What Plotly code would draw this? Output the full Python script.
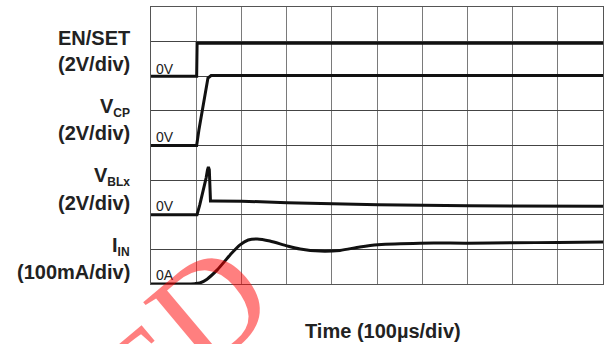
import plotly.graph_objects as go

# ---- data (time in µs, 100 µs/div) ----
en_t = [0, 101, 102, 1000]
en_v = [0, 0, 1.9, 1.9]

vcp_t = [0, 101, 106, 115, 122, 126, 133, 160, 1000]
vcp_v = [0, 0, 0.89, 2.34, 3.49, 3.9, 4.04, 4.05, 4.05]

vblx_t = [0, 101.8, 108, 115, 122, 125, 127, 129, 130.5, 131.6, 137, 201, 301, 330, 502, 701, 1000]
vblx_v = [0, 0, 0.58, 1.33, 2.13, 2.6, 2.76, 2.6, 1.4, 0.8, 0.8, 0.78, 0.70, 0.68, 0.58, 0.52, 0.49]

iin_t = [0, 97, 108, 124, 146, 175, 197, 215, 235, 263, 301, 330, 374, 418, 462, 502, 595, 701, 801, 900, 1000]
iin_ma = [0, 1, 3, 14, 40, 84, 113, 127, 130, 124, 110, 101, 95, 97, 107, 113.5, 118, 118, 119, 120, 121]

ch_names = ["EN/SET", "V<sub>CP</sub>", "V<sub>BLx</sub>", "I<sub>IN</sub>"]
ch_scales = ["(2V/div)", "(2V/div)", "(2V/div)", "(100mA/div)"]
zero_labels = ["0V", "0V", "0V", "0A"]
x_label = "Time (100µs/div)"

LINE = dict(color="#111111", width=3)

fig = go.Figure()
fig.add_trace(go.Scatter(x=iin_t, y=iin_ma, mode="lines", line=dict(LINE, shape="spline", smoothing=0.8), yaxis="y"))
fig.add_trace(go.Scatter(x=en_t, y=en_v, mode="lines", line=LINE, yaxis="y2"))
fig.add_trace(go.Scatter(x=vcp_t, y=vcp_v, mode="lines", line=LINE, yaxis="y3"))
fig.add_trace(go.Scatter(x=vblx_t, y=vblx_v, mode="lines", line=LINE, yaxis="y4"))

FONT_B = dict(family="Liberation Sans, Arial, sans-serif", size=20, color="#222222")
ann = []
name_y = [0.8863, 0.6363, 0.3863, 0.1363]
scale_y = [0.7942, 0.5442, 0.2942, 0.0442]
zero_y = [0.776, 0.531, 0.282, 0.0325]
for i in range(4):
    nm = ch_names[i].replace("<sub>", "<sub><span style='font-size:12px'>").replace("</sub>", "</span></sub>")
    ann.append(dict(text="<b>" + nm + "</b>", x=0, xref="paper", xanchor="right", xshift=-19,
                    y=name_y[i], yref="paper", yanchor="middle", showarrow=False, font=FONT_B))
    ann.append(dict(text="<b>" + ch_scales[i] + "</b>", x=0, xref="paper", xanchor="right", xshift=-19,
                    y=scale_y[i], yref="paper", yanchor="middle", showarrow=False, font=FONT_B))
    ann.append(dict(text=zero_labels[i], x=0, xref="paper", xanchor="left", xshift=3,
                    y=zero_y[i], yref="paper", yanchor="middle", showarrow=False,
                    font=dict(family="Liberation Sans, Arial, sans-serif", size=14, color="#222222")))
ann.append(dict(text="<b>" + x_label + "</b>", x=0.5133, xref="paper", y=-0.1697, yref="paper",
                xanchor="center", yanchor="middle", showarrow=False, font=FONT_B))
# red watermark fragment (letters placed individually)
WM = dict(family="Liberation Serif, Times New Roman, serif", size=130, color="rgba(255,0,0,0.5)")
ann.append(dict(text="D", x=0.1305, xref="paper", y=-0.0794, yref="paper", xanchor="center", yanchor="middle",
                showarrow=False, textangle=-40, font=dict(WM, size=145)))
ann.append(dict(text="E", x=-0.011, xref="paper", y=-0.3285, yref="paper", xanchor="center", yanchor="middle",
                showarrow=False, textangle=-40, font=WM))

fig.update_layout(
    width=606, height=344, autosize=False,
    margin=dict(l=151, r=3, t=7, b=60),
    paper_bgcolor="white", plot_bgcolor="white",
    showlegend=False,
    annotations=ann,
    xaxis=dict(range=[0, 1000], dtick=100, tick0=0, showgrid=True, gridcolor="#7a7a7a", gridwidth=1,
               showticklabels=False, ticks="", zeroline=False, showline=True, mirror=True,
               linecolor="#555555", linewidth=1, fixedrange=True),
    yaxis=dict(range=[0, 800], dtick=100, tick0=0, showgrid=True, gridcolor="#444444", gridwidth=1,
               showticklabels=False, ticks="", zeroline=False, showline=True, mirror=True,
               linecolor="#555555", linewidth=1, fixedrange=True),
    yaxis2=dict(range=[-12, 4], overlaying="y", visible=False, fixedrange=True),
    yaxis3=dict(range=[-8, 8], overlaying="y", visible=False, fixedrange=True),
    yaxis4=dict(range=[-4, 12], overlaying="y", visible=False, fixedrange=True),
)

fig.write_html("out.html", config={"displayModeBar": False})
